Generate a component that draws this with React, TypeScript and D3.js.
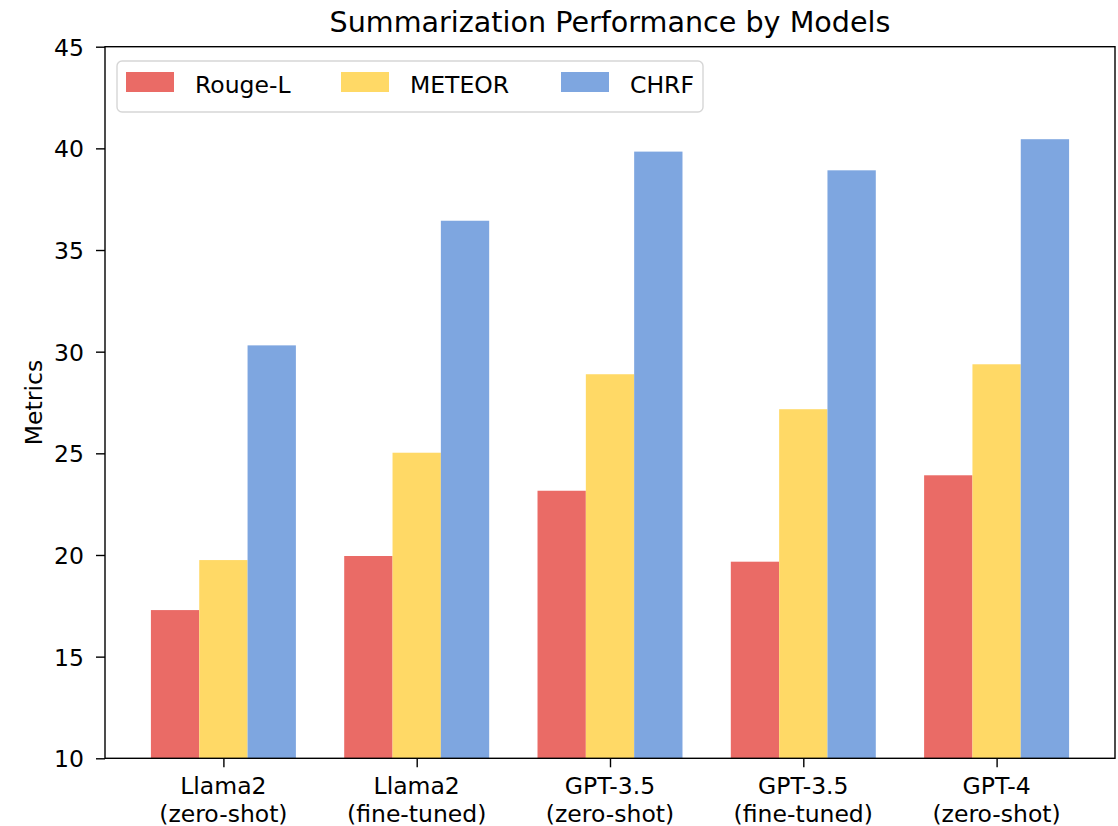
import React, { useRef, useEffect } from 'react';
import * as d3 from 'd3';

const models = ['Llama2\n(zero-shot)', 'Llama2\n(fine-tuned)', 'GPT-3.5\n(zero-shot)', 'GPT-3.5\n(fine-tuned)', 'GPT-4\n(zero-shot)'];
const metricNames = ['Rouge-L', 'METEOR', 'CHRF'];
const rougeL = [17.29, 19.95, 23.16, 19.67, 23.92];
const meteor = [19.75, 25.03, 28.89, 27.17, 29.38];
const chrf = [30.31, 36.44, 39.84, 38.92, 40.45];
const colors = ['#EA6B66', '#FFD966', '#7EA6E0'];
const yTicks = [10, 15, 20, 25, 30, 35, 40, 45];

const W = 1118;
const H = 826;
const FONT = '"DejaVu Sans", sans-serif';
const FS = 23.5;

export default function App() {
    const svgRef = useRef<SVGSVGElement>(null);

    useEffect(() => {
        if (!svgRef.current) return;
        const series = [rougeL, meteor, chrf];
        const barW = 0.25;

        const left = 105, right = 1115, top = 46.7, bottom = 758.3;

        const svg = d3.select(svgRef.current);
        svg.selectAll('*').remove();

        const x = d3.scaleLinear().domain([-0.6125, 4.6125]).range([left, right]);
        const y = d3.scaleLinear().domain([10, 45]).range([bottom, top]);

        svg.append('rect').attr('width', W).attr('height', H).attr('fill', '#fff');

        // bars
        series.forEach((vals, si) => {
            svg.append('g')
                .selectAll('rect')
                .data(vals)
                .enter().append('rect')
                .attr('x', (d, i) => x(i + (si - 1) * barW - barW / 2))
                .attr('width', x(barW) - x(0))
                .attr('y', d => y(d))
                .attr('height', d => bottom - y(d))
                .attr('fill', colors[si]);
        });

        // spines
        svg.append('rect')
            .attr('x', left).attr('y', top)
            .attr('width', right - left).attr('height', bottom - top)
            .attr('fill', 'none').attr('stroke', '#000').attr('stroke-width', 1.4);

        // y axis
        const yAxis = svg.append('g').attr('transform', `translate(${left},0)`)
            .call(d3.axisLeft(y).tickValues(yTicks).tickSize(9).tickPadding(12).tickFormat(d3.format('d')));
        yAxis.select('.domain').remove();
        yAxis.selectAll('line').attr('stroke', '#000').attr('stroke-width', 1.4);
        yAxis.selectAll('text')
            .attr('font-family', FONT).attr('font-size', FS).attr('fill', '#000')
            .attr('dy', '0.36em');

        // x axis
        const xAxis = svg.append('g').attr('transform', `translate(0,${bottom})`)
            .call(d3.axisBottom(x).tickValues(d3.range(models.length)).tickSize(9).tickFormat(() => ''));
        xAxis.select('.domain').remove();
        xAxis.selectAll('line').attr('stroke', '#000').attr('stroke-width', 1.4);

        const xl = svg.append('g');
        models.forEach((m, i) => {
            const t = xl.append('text')
                .attr('x', x(i)).attr('y', 794)
                .attr('text-anchor', 'middle')
                .attr('font-family', FONT).attr('font-size', FS).attr('fill', '#000');
            m.split('\n').forEach((line, li) => {
                t.append('tspan').attr('x', x(i)).attr('dy', li === 0 ? 0 : 27.5).text(line);
            });
        });

        // y label
        svg.append('text')
            .attr('transform', `translate(42,${(top + bottom) / 2}) rotate(-90)`)
            .attr('text-anchor', 'middle')
            .attr('font-family', FONT).attr('font-size', FS).attr('fill', '#000')
            .text('Metrics');

        // title
        svg.append('text')
            .attr('x', (left + right) / 2).attr('y', 32)
            .attr('text-anchor', 'middle')
            .attr('font-family', FONT).attr('font-size', 28.6).attr('fill', '#000')
            .text('Summarization Performance by Models');

        // legend
        const lg = svg.append('g');
        lg.append('rect')
            .attr('x', 117).attr('y', 61).attr('width', 586).attr('height', 51)
            .attr('rx', 5).attr('fill', '#fff').attr('fill-opacity', 0.8)
            .attr('stroke', '#d6d6d6').attr('stroke-width', 1.4);
        const patchX = [126, 341, 561];
        metricNames.forEach((name, i) => {
            lg.append('rect')
                .attr('x', patchX[i]).attr('y', 72).attr('width', 48).attr('height', 20)
                .attr('fill', colors[i]);
            lg.append('text')
                .attr('x', patchX[i] + 69).attr('y', 93)
                .attr('font-family', FONT).attr('font-size', FS).attr('fill', '#000')
                .text(name);
        });
    }, []);

    return (
        <svg
            ref={svgRef}
            width={W}
            height={H}
            style={{ position: 'absolute', left: 0, top: 0, display: 'block' }}
        />
    );
}
